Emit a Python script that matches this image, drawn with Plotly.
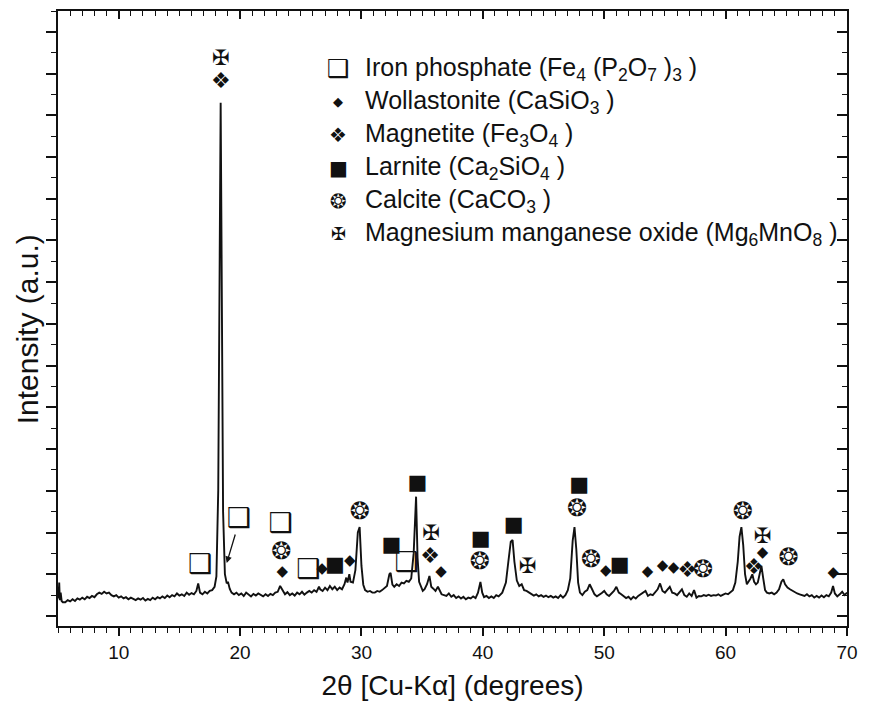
import plotly.graph_objects as go

# ---- XRD pattern (2-theta in degrees, intensity in counts) ----
two_theta = [
    5.00, 5.05, 5.10, 5.15, 5.22, 5.30, 5.40, 5.60, 5.80, 6.00, 6.20, 6.40, 6.60, 6.80,
    7.00, 7.20, 7.40, 7.60, 7.80, 8.00, 8.20, 8.40, 8.60, 8.80, 9.00, 9.20, 9.40, 9.60,
    9.80, 10.00, 10.20, 10.40, 10.60, 10.80, 11.00, 11.20, 11.40, 11.60, 11.80, 12.00,
    12.20, 12.40, 12.60, 12.80, 13.00, 13.20, 13.40, 13.60, 13.80, 14.00, 14.20, 14.40,
    14.60, 14.80, 15.00, 15.20, 15.40, 15.60, 15.80, 16.00, 16.20, 16.40, 16.55, 16.70,
    16.90, 17.10, 17.30, 17.50, 17.70, 17.90, 18.05, 18.20, 18.33, 18.40, 18.47, 18.60,
    18.75, 18.90, 19.00, 19.15, 19.30, 19.50, 19.70, 19.90, 20.10, 20.30, 20.50, 20.70,
    20.90, 21.10, 21.30, 21.50, 21.70, 21.90, 22.10, 22.30, 22.50, 22.70, 22.90, 23.10,
    23.30, 23.50, 23.70, 23.90, 24.10, 24.30, 24.50, 24.70, 24.90, 25.10, 25.30, 25.50,
    25.70, 25.90, 26.10, 26.30, 26.50, 26.60, 26.80, 27.00, 27.20, 27.40, 27.60, 27.80,
    28.00, 28.20, 28.40, 28.60, 28.75, 28.85, 29.00, 29.10, 29.30, 29.50, 29.70, 29.85,
    30.00, 30.15, 30.30, 30.50, 30.70, 30.90, 31.10, 31.30, 31.50, 31.70, 31.90, 32.10,
    32.30, 32.40, 32.55, 32.70, 32.90, 33.10, 33.30, 33.50, 33.70, 33.90, 34.10, 34.30,
    34.50, 34.62, 34.75, 34.90, 35.05, 35.20, 35.40, 35.60, 35.75, 35.90, 36.10, 36.30,
    36.45, 36.60, 36.80, 37.00, 37.20, 37.40, 37.60, 37.80, 38.00, 38.20, 38.40, 38.60,
    38.80, 39.00, 39.20, 39.40, 39.60, 39.80, 39.95, 40.10, 40.30, 40.50, 40.70, 40.90,
    41.10, 41.30, 41.60, 41.90, 42.10, 42.30, 42.45, 42.60, 42.80, 43.00, 43.20, 43.40,
    43.60, 43.80, 44.00, 44.20, 44.40, 44.60, 44.80, 45.00, 45.20, 45.40, 45.60, 45.80,
    46.00, 46.20, 46.40, 46.60, 46.80, 47.00, 47.20, 47.40, 47.55, 47.70, 47.85, 48.00,
    48.20, 48.40, 48.60, 48.80, 49.00, 49.20, 49.40, 49.60, 49.80, 50.00, 50.20, 50.40,
    50.60, 50.80, 51.00, 51.20, 51.40, 51.60, 51.80, 52.00, 52.20, 52.40, 52.60, 52.80,
    53.00, 53.20, 53.40, 53.60, 53.80, 54.00, 54.20, 54.40, 54.60, 54.80, 55.00, 55.20,
    55.40, 55.60, 55.80, 56.00, 56.20, 56.40, 56.60, 56.80, 57.00, 57.20, 57.40, 57.60,
    57.80, 58.00, 58.20, 58.40, 58.60, 58.80, 59.00, 59.20, 59.40, 59.60, 59.80, 60.00,
    60.20, 60.40, 60.60, 60.80, 61.00, 61.15, 61.30, 61.45, 61.60, 61.75, 61.90, 62.05,
    62.20, 62.35, 62.50, 62.65, 62.80, 62.95, 63.10, 63.25, 63.40, 63.60, 63.80, 64.00,
    64.20, 64.40, 64.60, 64.75, 64.90, 65.10, 65.30, 65.50, 65.70, 65.90, 66.10, 66.30,
    66.50, 66.70, 66.90, 67.10, 67.30, 67.50, 67.70, 67.90, 68.10, 68.30, 68.50, 68.70,
    68.85, 69.00, 69.20, 69.40, 69.60, 69.80, 70.00,
]
intensity = [
    700, 420, 800, 380, 560, 360, 330, 330, 380, 350, 400, 360, 420, 390,
    440, 400, 460, 430, 480, 450, 520, 560, 530, 580, 540, 560, 500, 470,
    500, 440, 470, 420, 450, 400, 440, 410, 380, 420, 390, 430,
    370, 410, 380, 440, 400, 450, 420, 470, 430, 490, 450, 500,
    470, 540, 490, 520, 480, 560, 510, 550, 520, 600, 780, 560,
    520, 580, 540, 600, 620, 700, 950, 3000, 11000, 12300, 9000, 2500,
    1000, 780, 820, 650, 560, 520, 560, 500, 540, 480, 560, 510,
    470, 530, 490, 540, 500, 470, 520, 480, 530, 500, 560, 580,
    720, 600, 520, 570, 500, 540, 490, 560, 520, 580, 510, 560,
    600, 560, 620, 580, 700, 640, 600, 680, 620, 720, 640, 700,
    620, 680, 640, 760, 920, 800, 1000, 820, 800, 1100, 2000, 2130,
    1200, 750, 620, 580, 600, 560, 560, 600, 580, 620, 680, 720,
    1000, 1030, 750, 700, 760, 720, 800, 780, 840, 820, 900, 1500,
    2860, 1400, 820, 720, 600, 640, 760, 960, 700, 660, 600, 700,
    620, 520, 500, 480, 540, 460, 500, 430, 470, 420, 460, 400,
    440, 420, 470, 430, 560, 815, 560, 450, 480, 430, 470, 430,
    500, 470, 560, 800, 1300, 1780, 1820, 1300, 850, 720, 760, 620,
    600, 560, 520, 490, 520, 470, 500, 460, 490, 450, 480, 440,
    470, 430, 500, 440, 500, 620, 900, 1800, 2130, 1600, 800, 560,
    500, 580, 620, 760, 640, 520, 470, 500, 550, 600, 520, 480,
    540, 600, 700, 560, 520, 480, 430, 460, 400, 460, 420, 480,
    520, 560, 600, 480, 520, 500, 560, 640, 780, 600, 560, 620,
    700, 560, 540, 500, 560, 640, 500, 460, 540, 480, 620, 440,
    480, 470, 500, 480, 510, 480, 500, 490, 520, 480, 510, 540,
    520, 560, 620, 800, 1300, 1900, 2130, 1700, 1000, 760, 820, 900,
    1000, 820, 760, 800, 1000, 1200, 900, 620, 560, 540, 560, 520,
    560, 640, 820, 880, 760, 680, 640, 600, 560, 540, 520, 500,
    480, 520, 470, 500, 440, 480, 440, 490, 450, 500, 470, 560,
    720, 540, 470, 520, 580, 500, 560,
]

# ---- phase identification marks (peak position, label height) ----
iron_phosphate_x = [16.69, 19.88, 23.32, 25.60, 33.70]
iron_phosphate_y = [1200, 2300, 2180, 1080, 1250]
wollastonite_x = [23.48, 26.75, 29.04, 36.56, 50.13, 53.57, 54.80, 55.70, 63.05, 68.86]
wollastonite_y = [1060, 1130, 1320, 1060, 1080, 1060, 1200, 1150, 1510, 1030]
magnetite_x = [18.41, 35.66, 56.84, 62.32]
magnetite_y = [12780, 1410, 1060, 1130]
larnite_x = [27.81, 32.47, 34.60, 39.83, 42.53, 47.93, 51.28]
larnite_y = [1200, 1680, 3170, 1820, 2160, 3120, 1200]
calcite_x = [23.40, 29.86, 39.75, 47.76, 48.91, 58.15, 61.42, 65.18]
calcite_y = [1510, 2470, 1270, 2540, 1320, 1080, 2470, 1370]
mgmno_x = [18.41, 35.74, 43.68, 63.05]
mgmno_y = [13330, 1940, 1150, 1870]

# ---- legend entries ----
phase_names = [
    "Iron phosphate (Fe<sub>4</sub> (P<sub>2</sub>O<sub>7</sub> )<sub>3</sub> )",
    "Wollastonite (CaSiO<sub>3</sub> )",
    "Magnetite (Fe<sub>3</sub>O<sub>4</sub> )",
    "Larnite (Ca<sub>2</sub>SiO<sub>4</sub> )",
    "Calcite (CaCO<sub>3</sub> )",
    "Magnesium manganese oxide (Mg<sub>6</sub>MnO<sub>8</sub> )",
]
phase_glyphs = ["\u2751", "\u25C6", "\u2756", "\u25A0", "\u2742", "\u2720"]
plot_glyph_sizes = [27, 15, 22, 21, 24, 21]
legend_glyph_sizes = [25, 13, 20, 20, 20, 18]

FONT = "Liberation Sans, Arial, Helvetica, sans-serif"
GLYPH_FONT = "DejaVu Sans"
INK = "#111111"

fig = go.Figure()

fig.add_trace(go.Scatter(
    x=two_theta, y=intensity, mode="lines",
    line=dict(color=INK, width=1.9), showlegend=False, hoverinfo="skip",
))

phase_sets = [
    (iron_phosphate_x, iron_phosphate_y),
    (wollastonite_x, wollastonite_y),
    (magnetite_x, magnetite_y),
    (larnite_x, larnite_y),
    (calcite_x, calcite_y),
    (mgmno_x, mgmno_y),
]
for (px, py), glyph, size in zip(phase_sets, phase_glyphs, plot_glyph_sizes):
    fig.add_trace(go.Scatter(
        x=px, y=py, mode="text", text=[glyph] * len(px),
        textposition="middle center",
        textfont=dict(family=GLYPH_FONT, size=size, color=INK),
        showlegend=False, hoverinfo="skip",
    ))

# invisible trace so the mirrored top/right axes get drawn
fig.add_trace(go.Scatter(x=[None], y=[None], xaxis="x2", yaxis="y2",
                         showlegend=False, hoverinfo="skip"))

# arrow pointing at the shoulder of the main reflection
fig.add_annotation(
    x=18.90, y=1270, ax=19.64, ay=1990, xref="x", yref="y", axref="x", ayref="y",
    showarrow=True, arrowhead=2, arrowsize=1, arrowwidth=1.3, arrowcolor=INK, text="",
)

# legend built from glyph + formula rows
row_top = 0.906
row_step = 0.0537
for i, (name, glyph, size) in enumerate(zip(phase_names, phase_glyphs, legend_glyph_sizes)):
    yy = row_top - i * row_step
    fig.add_annotation(x=0.355, y=yy, xref="paper", yref="paper", text=glyph,
                       showarrow=False, xanchor="center", yanchor="middle",
                       font=dict(family=GLYPH_FONT, size=size, color=INK))
    fig.add_annotation(x=0.386, y=yy, xref="paper", yref="paper", text=name,
                       showarrow=False, xanchor="left", yanchor="middle",
                       font=dict(family=FONT, size=25, color=INK))

# vertical axis title
fig.add_annotation(x=-0.0376, y=0.483, xref="paper", yref="paper",
                   text="Intensity (a.u.)", textangle=-90, showarrow=False,
                   xanchor="center", yanchor="middle",
                   font=dict(family=FONT, size=30, color=INK))

x_range = [5, 70]
y_range = [-240, 14500]

fig.update_layout(
    width=869, height=709,
    margin=dict(l=58, r=14, t=11, b=83),
    paper_bgcolor="white", plot_bgcolor="white",
    font=dict(family=FONT, color=INK),
    xaxis=dict(
        range=x_range, tick0=0, dtick=10, ticks="outside", ticklen=8, tickwidth=1.5,
        tickcolor=INK, showline=True, linewidth=2, linecolor=INK, showgrid=False,
        zeroline=False, tickfont=dict(size=19, family=FONT, color=INK),
        minor=dict(dtick=1, ticks="outside", ticklen=5, tickwidth=1.3, tickcolor=INK),
        title=dict(text="2\u03b8 [Cu-K\u03b1] (degrees)", font=dict(size=28, family=FONT, color=INK),
                   standoff=14),
    ),
    xaxis2=dict(
        range=x_range, overlaying="x", side="top", tick0=0, dtick=10, ticks="inside",
        ticklen=8, tickwidth=1.5, tickcolor=INK, showline=True, linewidth=2, linecolor=INK,
        showgrid=False, zeroline=False, showticklabels=False,
        minor=dict(dtick=1, ticks="inside", ticklen=5, tickwidth=1.3, tickcolor=INK),
    ),
    yaxis=dict(
        range=y_range, tick0=0, dtick=1000, ticks="outside", ticklen=10, tickwidth=1.5,
        tickcolor=INK, showline=True, linewidth=2, linecolor=INK, showgrid=False,
        zeroline=False, showticklabels=False,
        minor=dict(dtick=500, ticks="outside", ticklen=5, tickwidth=1.3, tickcolor=INK),
    ),
    yaxis2=dict(
        range=y_range, overlaying="y", side="right", tick0=0, dtick=1000, ticks="inside",
        ticklen=10, tickwidth=1.5, tickcolor=INK, showline=True, linewidth=2, linecolor=INK,
        showgrid=False, zeroline=False, showticklabels=False,
        minor=dict(dtick=500, ticks="inside", ticklen=5, tickwidth=1.3, tickcolor=INK),
    ),
)

fig.write_html("out.html")
